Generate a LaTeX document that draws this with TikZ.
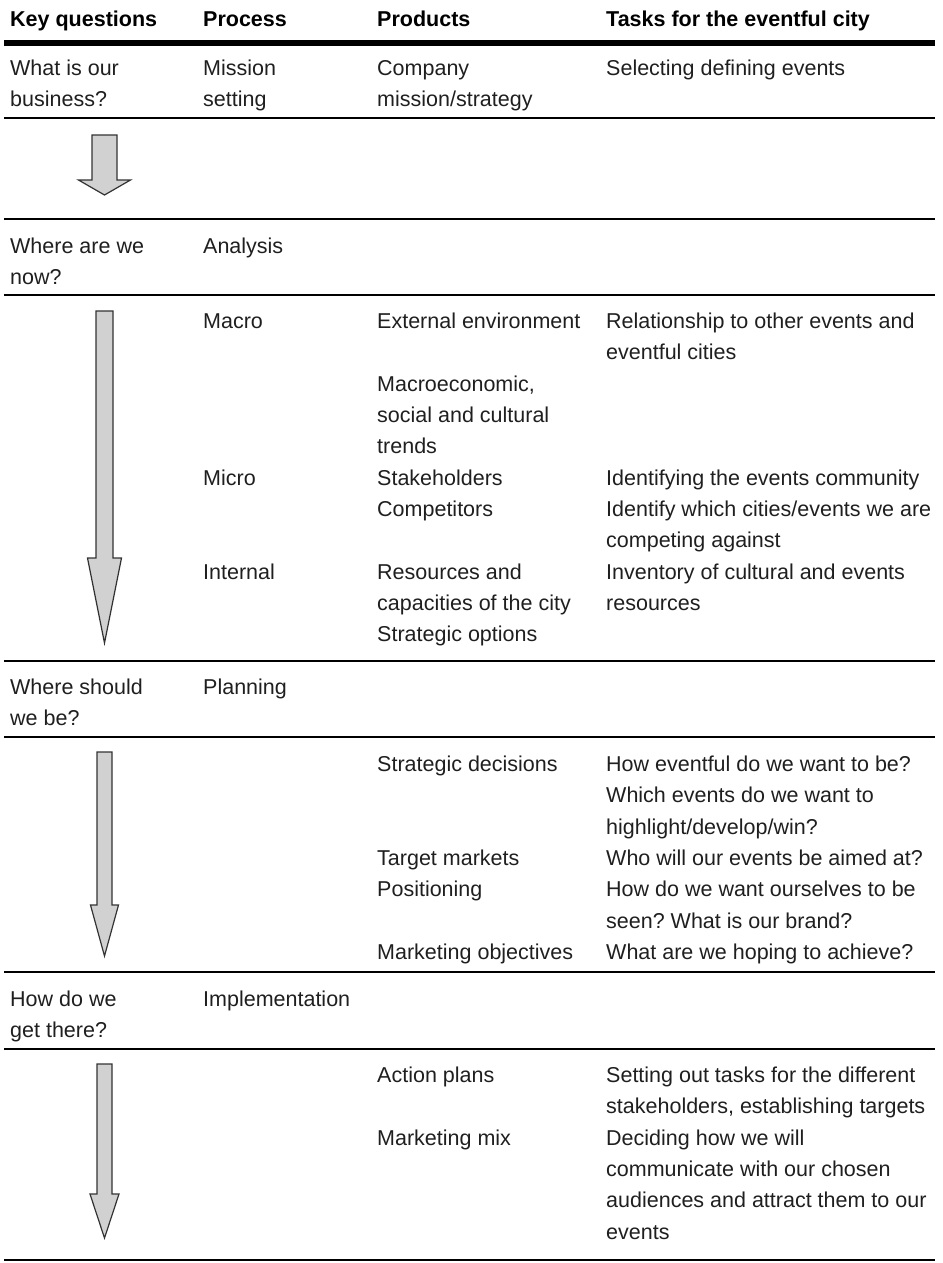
\documentclass[tikz,border=0pt]{standalone}
\usepackage{fontspec}
\setmainfont{Liberation Sans}
\frenchspacing
\newcommand\linepitch{31.3}
\newcommand\textdrop{4}
% a stack of text lines in one cell: name, x, y of first line, lines
\newcommand\cellstack[4]{%
  \foreach \t [count=\i from 0] in {#4}
    \node[txt] (#1-\i) at (#2, {#3+\textdrop+\linepitch*\i}) {\t};}
% a block arrow pointing down: name, centre x, top, head base, tip, shaft half width, head half width
\newcommand\blockarrow[7]{%
  \coordinate (#1-top) at (#2,#3);
  \coordinate (#1-tip) at (#2,#5);
  \draw[blockarrow] ({#2-#6},#3) -- ({#2+#6},#3) -- ({#2+#6},#4) -- ({#2+#7},#4)
    -- (#1-tip) -- ({#2-#7},#4) -- ({#2-#6},#4) -- cycle;}
% a full-width table rule: name, y, style
\newcommand\tablerule[3]{%
  \coordinate (#1-l) at (4,#2);
  \coordinate (#1-r) at (935,#2);
  \draw[#3] (#1-l) -- (#1-r);}
\begin{document}
\begin{tikzpicture}[x=1pt,y=-1pt,
  txt/.style={anchor=mid west, inner sep=0pt, text=black!88,
    font=\fontsize{21.5}{26}\selectfont},
  hd/.style={txt, text=black, font=\bfseries\fontsize{21.5}{26}\selectfont},
  rowrule/.style={line width=2.2pt, black},
  headrule/.style={line width=5.5pt, black},
  blockarrow/.style={fill=gray!36, draw=black!80, line width=1.2pt, line join=miter}]
\useasboundingbox (0,0) rectangle (942,1263);

% column starts
\def\ca{10}\def\cb{203}\def\cc{377}\def\cd{606}

% header
\node[hd] (h1) at (\ca,24) {Key questions};
\node[hd] (h2) at (\cb,24) {Process};
\node[hd] (h3) at (\cc,24) {Products};
\node[hd] (h4) at (\cd,24) {Tasks for the eventful city};
\tablerule{r0}{43}{headrule}

% mission
\cellstack{q1}{\ca}{69}{What is our, business?}
\cellstack{p1}{\cb}{69}{Mission, setting}
\cellstack{d1}{\cc}{69}{Company, mission/strategy}
\cellstack{t1}{\cd}{69}{Selecting defining events}
\tablerule{r1}{118}{rowrule}
\blockarrow{a1}{104.5}{135}{180}{195}{12.5}{26}
\tablerule{r2}{219}{rowrule}

% analysis
\cellstack{q2}{\ca}{247}{Where are we, now?}
\cellstack{p2}{\cb}{247}{Analysis}
\tablerule{r3}{295}{rowrule}
\blockarrow{a2}{104.5}{311}{558}{643}{8.5}{17}
\cellstack{p3}{\cb}{322}{Macro}
\cellstack{p4}{\cb}{478.5}{Micro}
\cellstack{p5}{\cb}{572.4}{Internal}
\cellstack{d3}{\cc}{322}{External environment, , {Macroeconomic,}, social and cultural, trends,
  Stakeholders, Competitors, , Resources and, capacities of the city, Strategic options}
\cellstack{t3}{\cd}{322}{Relationship to other events and, eventful cities}
\cellstack{t4}{\cd}{478.5}{Identifying the events community, Identify which cities/events we are,
  competing against, Inventory of cultural and events, resources}
\tablerule{r4}{661}{rowrule}

% planning
\cellstack{q3}{\ca}{688}{Where should, we be?}
\cellstack{p6}{\cb}{688}{Planning}
\tablerule{r5}{737}{rowrule}
\blockarrow{a3}{104.5}{752}{905}{956}{7.5}{14}
\cellstack{d5}{\cc}{765}{Strategic decisions, , , Target markets, Positioning, , Marketing objectives}
\cellstack{t5}{\cd}{765}{How eventful do we want to be?, Which events do we want to,
  highlight/develop/win?, Who will our events be aimed at?, How do we want ourselves to be,
  seen? What is our brand?, What are we hoping to achieve?}
\tablerule{r6}{972}{rowrule}

% implementation
\cellstack{q4}{\ca}{1000}{How do we, get there?}
\cellstack{p7}{\cb}{1000}{Implementation}
\tablerule{r7}{1049}{rowrule}
\blockarrow{a4}{104.5}{1064}{1194}{1238}{7.5}{14.5}
\cellstack{d7}{\cc}{1076}{Action plans, , Marketing mix}
\cellstack{t7}{\cd}{1076}{Setting out tasks for the different, {stakeholders, establishing targets},
  Deciding how we will, communicate with our chosen, audiences and attract them to our, events}
\tablerule{r8}{1260}{rowrule}
\end{tikzpicture}
\end{document}
